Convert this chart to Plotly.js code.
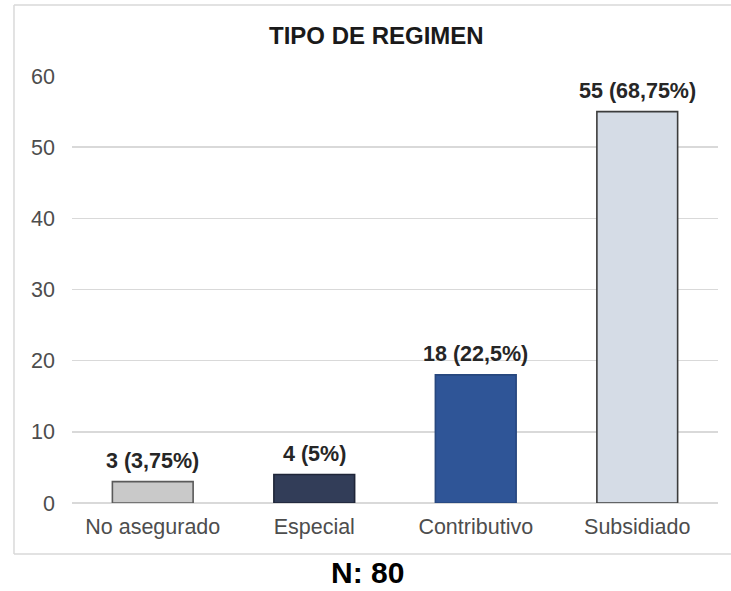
<!DOCTYPE html>
<html>
<head>
<meta charset="utf-8">
<script src="https://cdn.plot.ly/plotly-3.0.1.min.js"></script>
<style>
  html, body { margin: 0; padding: 0; background: #ffffff; }
  #chart { width: 731px; height: 591px; }
</style>
</head>
<body>
<div id="chart"></div>
<script>
const categories = ["No asegurado", "Especial", "Contributivo", "Subsidiado"];
const counts = [3, 4, 18, 55];
const percentLabels = ["3,75%", "5%", "22,5%", "68,75%"];
const fillColors = ["#c9c9c9", "#323d58", "#2f5597", "#d5dce6"];
const lineColors = ["#5a5a5a", "#1f2538", "#27477e", "#3c3c3c"];
const yTicks = [0, 10, 20, 30, 40, 50, 60];
const chartTitle = "TIPO DE REGIMEN";
const sampleNote = "N: 80";

const FONT = "Liberation Sans, Arial, sans-serif";

const trace = {
  type: "bar",
  x: categories,
  y: counts,
  width: 0.5,
  marker: {
    color: fillColors,
    line: { color: lineColors, width: 1.6 }
  },
  hoverinfo: "x+y",
  cliponaxis: false
};

const labelAnnotations = categories.map((c, i) => ({
  x: c,
  y: counts[i],
  xref: "x",
  yref: "y",
  text: counts[i] + " (" + percentLabels[i] + ")",
  showarrow: false,
  yanchor: "bottom",
  yshift: 7,
  font: { family: FONT, size: 21.5, color: "#262626", weight: "bold" }
}));

const borderColor = "#d9d9d9";
const layout = {
  width: 731,
  height: 591,
  margin: { l: 72, r: 13, t: 76, b: 88 },
  paper_bgcolor: "#ffffff",
  plot_bgcolor: "#ffffff",
  showlegend: false,
  bargap: 0.5,
  xaxis: {
    type: "category",
    showgrid: false,
    showline: false,
    zeroline: false,
    ticks: "",
    ticklabelstandoff: 8,
    tickfont: { family: FONT, size: 21.5, color: "#4d4d4d" }
  },
  yaxis: {
    range: [0, 60],
    tickvals: yTicks,
    ticktext: yTicks.map(String),
    showgrid: true,
    gridcolor: "#d9d9d9",
    gridwidth: 1.5,
    zeroline: true,
    zerolinecolor: "#d9d9d9",
    zerolinewidth: 1.5,
    showline: false,
    ticks: "",
    ticklabelstandoff: 16,
    tickfont: { family: FONT, size: 21.5, color: "#4d4d4d" }
  },
  annotations: labelAnnotations.concat([
    {
      text: chartTitle,
      xref: "paper", yref: "paper",
      x: 0.4721, y: 1.0937,
      xanchor: "center", yanchor: "middle",
      showarrow: false,
      font: { family: FONT, size: 24, color: "#1a1a1a", weight: "bold" }
    },
    {
      text: sampleNote,
      xref: "paper", yref: "paper",
      x: 0.4567, y: -0.1639,
      xanchor: "center", yanchor: "middle",
      showarrow: false,
      font: { family: FONT, size: 30, color: "#000000", weight: "bold" }
    }
  ]),
  shapes: [
    { type: "line", xref: "paper", yref: "paper", x0: -0.0898, x1: 1.0201, y0: 1.1663, y1: 1.1663, line: { color: borderColor, width: 1.5 } },
    { type: "line", xref: "paper", yref: "paper", x0: -0.0898, x1: -0.0898, y0: -0.1194, y1: 1.1663, line: { color: borderColor, width: 1.5 } },
    { type: "line", xref: "paper", yref: "paper", x0: -0.0898, x1: 1.0201, y0: -0.1194, y1: -0.1194, line: { color: borderColor, width: 1.5 } }
  ]
};

Plotly.newPlot("chart", [trace], layout, { displayModeBar: false, staticPlot: true });
</script>
</body>
</html>
